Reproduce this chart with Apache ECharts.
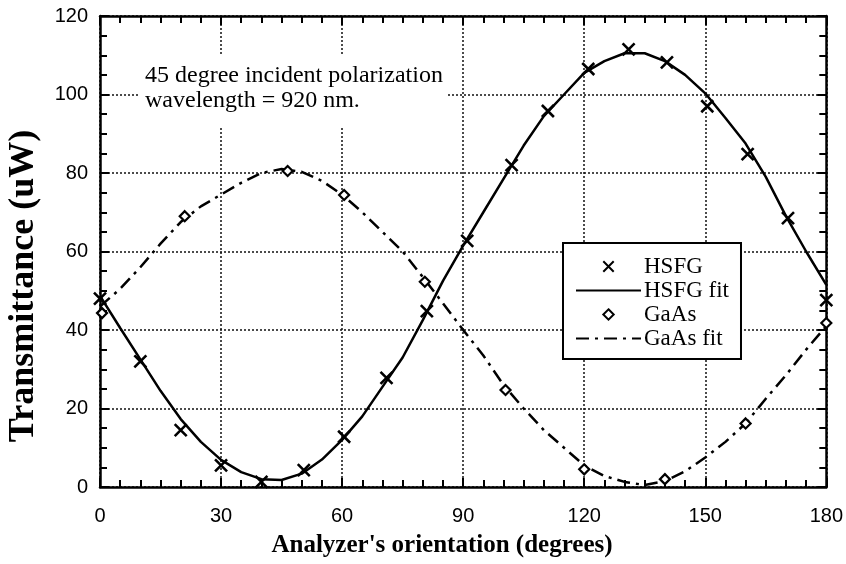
<!DOCTYPE html>
<html><head><meta charset="utf-8">
<script src="https://cdn.jsdelivr.net/npm/echarts@6/dist/echarts.min.js"></script>
<style>html,body{margin:0;padding:0;background:#fff}#c{width:846px;height:564px}</style>
</head><body><div id="c"></div>
<script>
// ---- data ----
const seriesNames = ['HSFG', 'HSFG fit', 'GaAs', 'GaAs fit'];
const hsfgX = [0, 10, 20, 30, 40, 50.5, 60.5, 71, 81, 91, 102, 111, 121, 131, 140.5, 150.5, 160.5, 170.5, 180];
const hsfgY = [48, 32, 14.5, 5.5, 1.3, 4.3, 12.8, 27.8, 44.8, 62.7, 82, 95.8, 106.5, 111.5, 108.2, 97, 84.8, 68.5, 47.6];
const gaasX = [0.5, 21, 46.5, 60.5, 80.5, 100.5, 120, 140, 160, 180];
const gaasY = [44.3, 69, 80.5, 74.4, 52.3, 24.7, 4.5, 2, 16.2, 41.8];
const fitX = [0,5,10,15,20,25,30,35,40,45,50,55,60,65,70,75,80,85,90,95,100,105,110,115,120,125,130,135,140,145,150,155,160,165,170,175,180];
const hsfgFitY = [48.7,40.5,32.5,24.5,17.3,11.5,6.9,3.8,2.0,1.8,3.4,7,12,18,25.5,33,42.5,52.5,61.5,70,78.5,87,94.5,100,105.5,108.5,110.5,110.5,108.5,105,100.3,94,87.5,79,69,60,51.5];
const gaasFitY = [46,50.5,56,62,67.5,71.5,74.5,77.5,80,81,80.3,78,74.5,70,65,60,53.5,46.8,40,33.5,26,20,14.5,10,5.5,2.8,1.3,0.5,1.5,4,7.5,11.5,16.2,22.5,28.5,35,41];
const xTicks = [0, 30, 60, 90, 120, 150, 180];
const yTicks = [0, 20, 40, 60, 80, 100, 120];
const xTitle = "Analyzer's orientation (degrees)";
const yTitle = 'Transmittance (uW)';
const noteLines = ['45 degree incident polarization', 'wavelength = 920 nm.'];

const pairs = (xs, ys) => xs.map((x, i) => [x, ys[i]]);

const chart = echarts.init(document.getElementById('c'), null, {renderer: 'canvas'});
const axisFont = {fontFamily: 'Liberation Sans', fontSize: 20, color: '#000'};
const lineCol = '#000';

function xAxisCfg(pos, labels) {
  return {
    type: 'value', position: pos, min: xTicks[0], max: xTicks[xTicks.length - 1], interval: 30,
    axisLine: {show: true, onZero: false, lineStyle: {color: lineCol, width: 2.5}},
    axisTick: {show: true, inside: true, length: 9, lineStyle: {color: lineCol, width: 2}},
    minorTick: {show: true, splitNumber: 6, length: 7, lineStyle: {color: lineCol, width: 2}},
    axisLabel: labels ? Object.assign({show: true, margin: 19}, axisFont) : {show: false},
    splitLine: {show: labels, lineStyle: {color: '#111', width: 1.5, type: [2, 2]}}
  };
}
function yAxisCfg(pos, labels) {
  return {
    type: 'value', position: pos, min: yTicks[0], max: yTicks[yTicks.length - 1], interval: 20,
    axisLine: {show: true, onZero: false, lineStyle: {color: lineCol, width: 2.5}},
    axisTick: {show: true, inside: true, length: 9, lineStyle: {color: lineCol, width: 2}},
    minorTick: {show: true, splitNumber: 4, length: 7, lineStyle: {color: lineCol, width: 2}},
    axisLabel: labels ? Object.assign({show: true, margin: 12}, axisFont) : {show: false},
    splitLine: {show: labels, lineStyle: {color: '#111', width: 1.5, type: [2, 2]}}
  };
}

const hidden = {color: 'rgba(0,0,0,0)', width: 0, opacity: 0};

chart.setOption({
  animation: false,
  backgroundColor: '#fff',
  grid: {left: 100, right: 19, top: 16, bottom: 77},
  xAxis: [xAxisCfg('bottom', true), xAxisCfg('top', false)],
  yAxis: [yAxisCfg('left', true), yAxisCfg('right', false)],
  legend: {
    show: true, orient: 'vertical', left: 563, top: 243,
    padding: [12, 12, 9, 12], itemGap: 1, itemWidth: 65, itemHeight: 13,
    backgroundColor: '#fff', borderColor: '#000', borderWidth: 2,
    textStyle: {fontFamily: 'Liberation Serif', fontSize: 23, color: '#000', padding: [0, 0, 0, -2]},
    data: seriesNames, z: 10, selectedMode: false
  },
  graphic: [
    {type: 'rect', shape: {x: 140, y: 54, width: 308, height: 74}, z: 1, style: {fill: '#fff'}},
    {type: 'text', left: 145, top: 64, z: 5, style: {text: noteLines[0], fontFamily: 'Liberation Serif', fontSize: 24, fill: '#000'}},
    {type: 'text', left: 145, top: 89, z: 5, style: {text: noteLines[1], fontFamily: 'Liberation Serif', fontSize: 24, fill: '#000'}},
    {type: 'text', x: 442, y: 546, style: {text: xTitle, fontFamily: 'Liberation Serif', fontWeight: 'bold', fontSize: 25, fill: '#000', align: 'center', verticalAlign: 'middle'}},
    {type: 'text', x: 24, y: 286, rotation: Math.PI / 2, style: {text: yTitle, fontFamily: 'Liberation Serif', fontWeight: 'bold', fontSize: 36, fill: '#000', align: 'center', verticalAlign: 'middle'}}
  ],
  series: [
    {
      name: seriesNames[0], type: 'line', data: pairs(hsfgX, hsfgY),
      symbol: 'path://M0,0L10,10M10,0L0,10', symbolSize: 12, symbolKeepAspect: true,
      itemStyle: {color: 'rgba(0,0,0,0)', borderColor: '#000', borderWidth: 2.6},
      lineStyle: hidden, z: 4
    },
    {
      name: seriesNames[1], type: 'line', data: pairs(fitX, hsfgFitY), symbol: 'none',
      itemStyle: {color: 'rgba(0,0,0,0)', borderWidth: 0}, lineStyle: {color: '#000', width: 2.5}, z: 3
    },
    {
      name: seriesNames[2], type: 'line', data: pairs(gaasX, gaasY),
      symbol: 'diamond', symbolSize: 10,
      itemStyle: {color: '#fff', borderColor: '#000', borderWidth: 2.2},
      lineStyle: hidden, z: 4
    },
    {
      name: seriesNames[3], type: 'line', data: pairs(fitX, gaasFitY), symbol: 'none',
      itemStyle: {color: 'rgba(0,0,0,0)', borderWidth: 0}, lineStyle: {color: '#000', width: 2.5, type: [13, 6, 3, 6]}, z: 3
    }
  ]
});
</script>
</body></html>
